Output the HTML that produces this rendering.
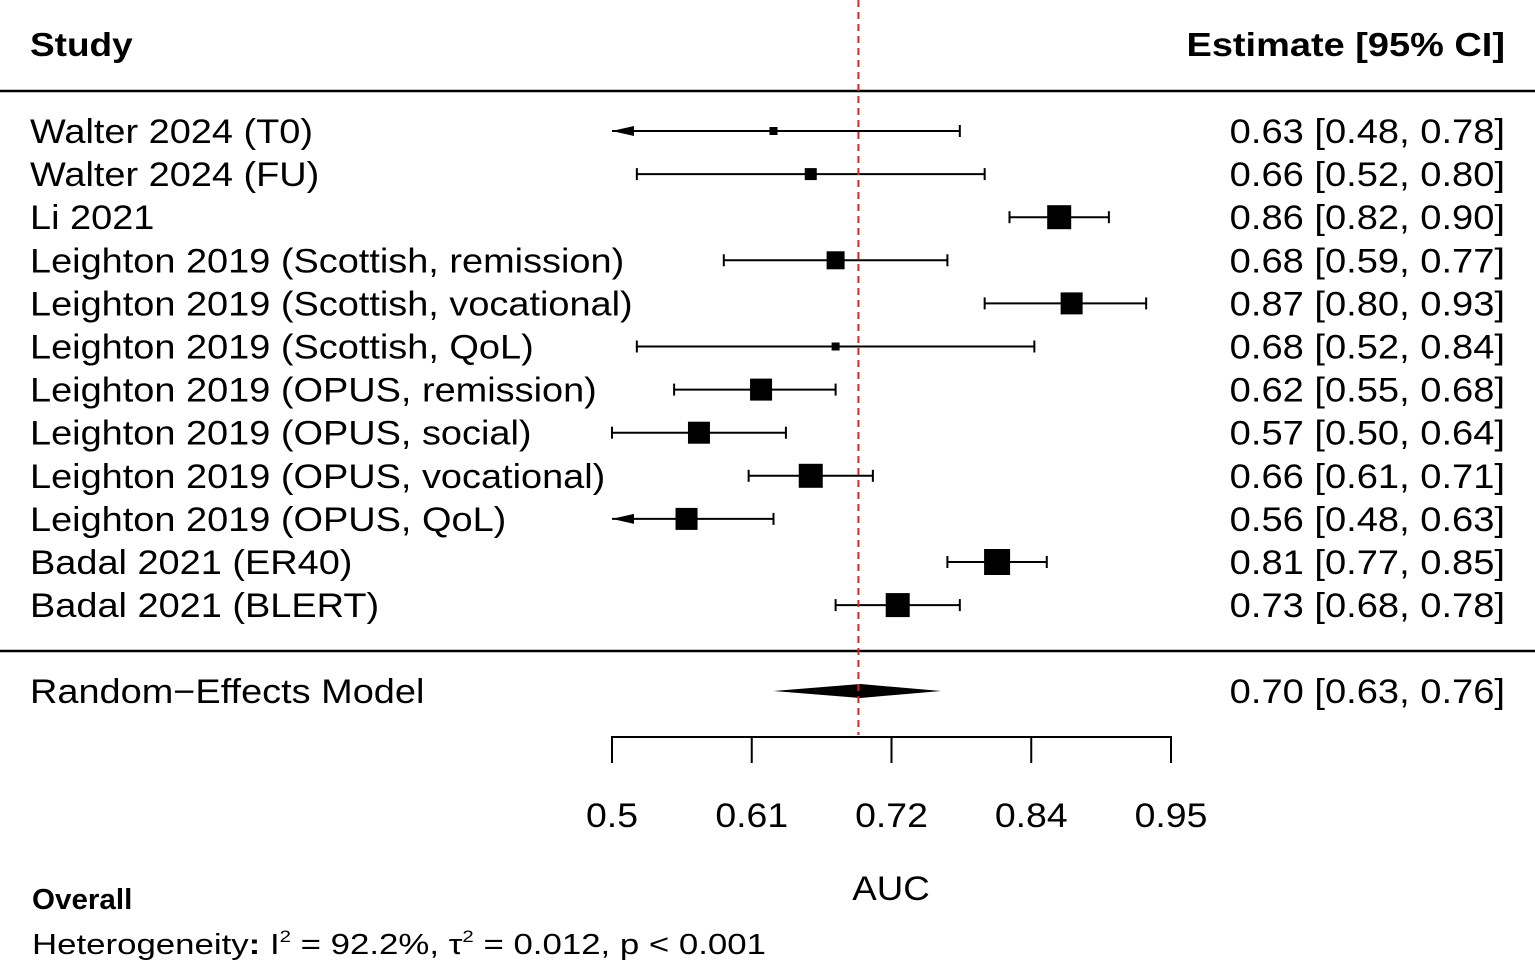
<!DOCTYPE html>
<html><head><meta charset="utf-8"><style>
body{margin:0;background:#fff;}
svg{display:block;font-family:"Liberation Sans",sans-serif;}
</style></head><body>
<svg id="chart" width="1535" height="963" viewBox="0 0 1535 963">
<text data-s="1.12" x="30" y="56" font-size="33" font-weight="bold">Study</text>
<text data-s="1.15" x="1505" y="56" font-size="33" font-weight="bold" text-anchor="end">Estimate [95% CI]</text>
<line x1="0" y1="91" x2="1535" y2="91" stroke="#000" stroke-width="2.5"/>
<line x1="0" y1="651" x2="1535" y2="651" stroke="#000" stroke-width="2.5"/>
<g id="rows"></g>
<g id="axis"></g>
<text data-s="1.08" x="891" y="900" font-size="34" text-anchor="middle">AUC</text>
<text data-s="1.02" x="32" y="909" font-size="29" font-weight="bold">Overall</text>
<text data-s="1.2" x="32" y="954" font-size="29">Heterogeneity<tspan font-weight="bold">:</tspan> I<tspan font-size="17" dy="-12">2</tspan><tspan dy="12"> = 92.2%, τ</tspan><tspan font-size="17" dy="-12">2</tspan><tspan dy="12"> = 0.012, p &lt; 0.001</tspan></text>
</svg>
<script>
const studies=["Walter 2024 (T0)","Walter 2024 (FU)","Li 2021","Leighton 2019 (Scottish, remission)","Leighton 2019 (Scottish, vocational)","Leighton 2019 (Scottish, QoL)","Leighton 2019 (OPUS, remission)","Leighton 2019 (OPUS, social)","Leighton 2019 (OPUS, vocational)","Leighton 2019 (OPUS, QoL)","Badal 2021 (ER40)","Badal 2021 (BLERT)"];
const est=[0.63,0.66,0.86,0.68,0.87,0.68,0.62,0.57,0.66,0.56,0.81,0.73];
const lo=[0.48,0.52,0.82,0.59,0.80,0.52,0.55,0.50,0.61,0.48,0.77,0.68];
const hi=[0.78,0.80,0.90,0.77,0.93,0.84,0.68,0.64,0.71,0.63,0.85,0.78];
const weight=[4,6,12,9,11,4,11,11,12,11,13,12];
const pooled=[0.70,0.63,0.76];
const ticks=[0.5,0.6125,0.725,0.8375,0.95];
const tickLabels=["0.5","0.61","0.72","0.84","0.95"];
const NS="http://www.w3.org/2000/svg";
const X0=612,X1=1171,V0=0.5,V1=0.95;
const xs=v=>X0+(v-V0)/(V1-V0)*(X1-X0);
const ys=i=>131+i*43.1;
function mk(t,a,p){const e=document.createElementNS(NS,t);for(const k in a)e.setAttribute(k,a[k]);p.appendChild(e);return e;}
const rows=document.getElementById('rows');
const f=v=>v.toFixed(2);
studies.forEach((s,i)=>{
 const y=ys(i);
 const g=mk('g',{},rows);
 
 
 const t=mk('text',{x:30,y:y+12,'font-size':34,'data-s':1.115},g);t.textContent=s;
 
 
 const r=mk('text',{x:1505,y:y+12,'font-size':34,'text-anchor':'end','data-s':1.12},g);
 r.textContent=f(est[i])+" ["+f(lo[i])+", "+f(hi[i])+"]";
 
 
 const l=Math.max(lo[i],V0),xl=xs(l),xh=xs(Math.min(hi[i],V1));
 const ln=mk('line',{x1:xl,y1:y,x2:xh,y2:y,stroke:'#000','stroke-width':2},g);
 
 
 if(lo[i]<V0){const a=mk('polygon',{points:`${xl},${y} ${xl+22},${y-5} ${xl+22},${y+5}`,fill:'#000'},g);
  
  }
 else mk('line',{x1:xl,y1:y-6,x2:xl,y2:y+6,stroke:'#000','stroke-width':2},g);
 mk('line',{x1:xh,y1:y-6,x2:xh,y2:y+6,stroke:'#000','stroke-width':2},g);
 const w=weight[i];
 const b=mk('rect',{x:xs(est[i])-w,y:y-w,width:2*w,height:2*w,fill:'#000'},g);
 
 
});
const py=691;
const pl=mk('text',{x:30,y:py+12,'font-size':34,'data-s':1.115},rows);pl.textContent="Random−Effects Model";


const pt=mk('text',{x:1505,y:py+12,'font-size':34,'text-anchor':'end','data-s':1.12},rows);
pt.textContent=f(pooled[0])+" ["+f(pooled[1])+", "+f(pooled[2])+"]";


const d=mk('polygon',{points:`${xs(pooled[1])},${py} ${xs(pooled[0])},${py-7} ${xs(pooled[2])+6},${py} ${xs(pooled[0])},${py+7}`,fill:'#000'},rows);


const ref=mk('line',{x1:xs(pooled[0])-2,y1:0,x2:xs(pooled[0])-2,y2:735,stroke:'#d22','stroke-width':2,'stroke-dasharray':'7,5'},rows);


const ax=document.getElementById('axis');
const al=mk('line',{x1:X0,y1:737,x2:X1,y2:737,stroke:'#000','stroke-width':2},ax);


ticks.forEach((v,i)=>{
 const tk=mk('line',{x1:xs(v),y1:736,x2:xs(v),y2:763,stroke:'#000','stroke-width':2},ax);
 
 
 const tl=mk('text',{x:xs(v),y:827,'font-size':34,'text-anchor':'middle','data-s':1.1},ax);tl.textContent=tickLabels[i];
 
 
});
document.querySelectorAll('text[data-s]').forEach(t=>{
 const s=parseFloat(t.getAttribute('data-s'));
 const w=t.getComputedTextLength();
 t.setAttribute('textLength',(w*s).toFixed(1));
 t.setAttribute('lengthAdjust','spacingAndGlyphs');
});
</script>
</body></html>
